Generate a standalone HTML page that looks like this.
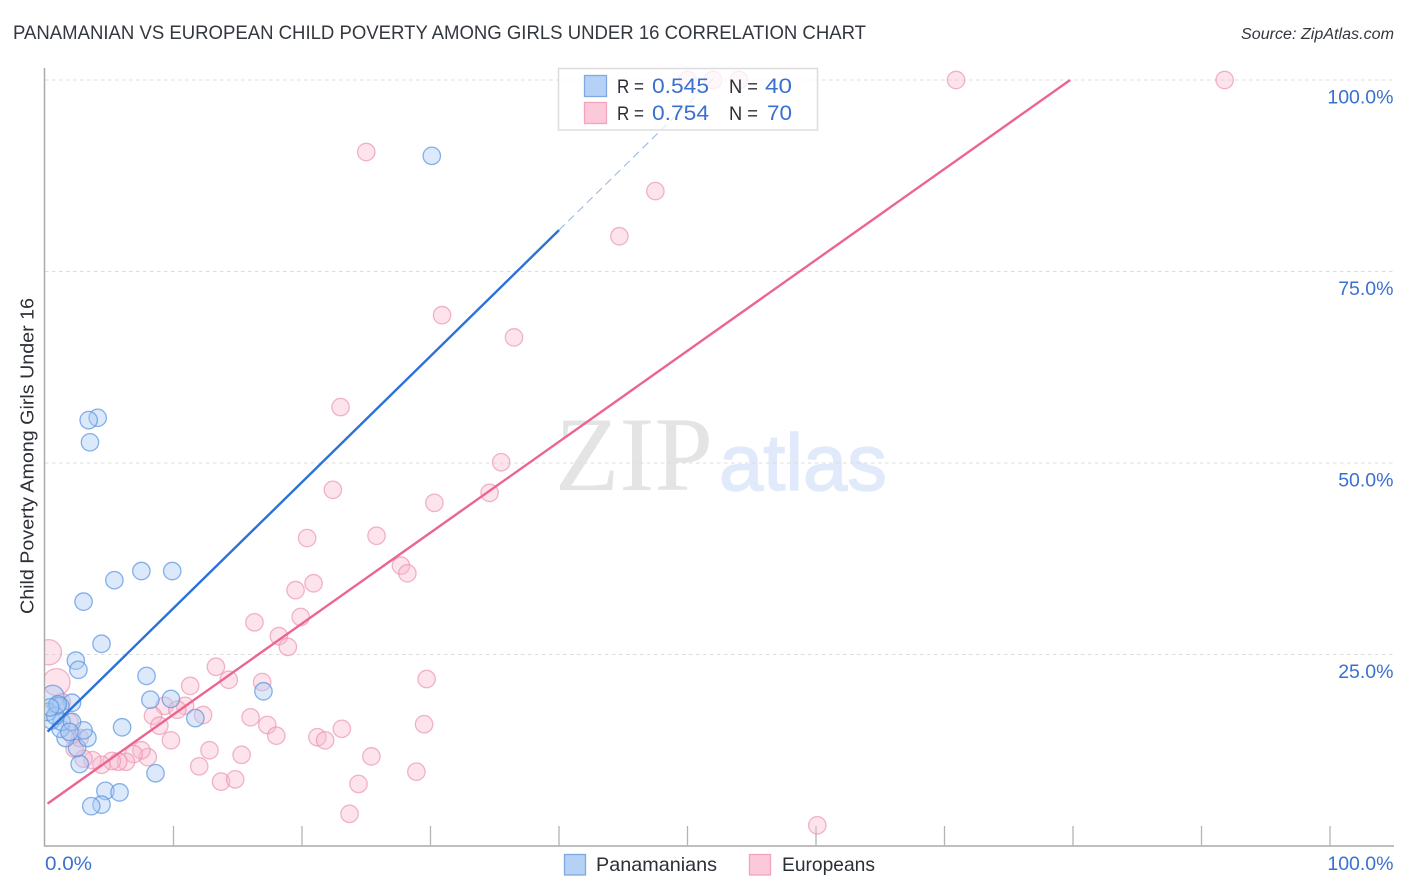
<!DOCTYPE html>
<html lang="en">
<head>
<meta charset="utf-8">
<title>Panamanian vs European Child Poverty Among Girls Under 16 Correlation Chart</title>
<style>
  html, body { margin: 0; padding: 0; background: #ffffff; }
  body { width: 1406px; height: 892px; overflow: hidden; }
  svg { display: block; }
  text { font-family: "Liberation Sans", Arial, sans-serif; }
</style>
</head>
<body>
<svg id="chart" xmlns="http://www.w3.org/2000/svg" width="1406" height="892" viewBox="0 0 1406 892">
  <text x="13" y="39" font-size="19.5" fill="#33373e" textLength="853" lengthAdjust="spacingAndGlyphs">PANAMANIAN VS EUROPEAN CHILD POVERTY AMONG GIRLS UNDER 16 CORRELATION CHART</text>
  <text x="1241" y="39" font-size="15.5" font-style="italic" fill="#33373d" textLength="153" lengthAdjust="spacingAndGlyphs">Source: ZipAtlas.com</text>
  <text transform="translate(33.5 614) rotate(-90)" x="0" y="0" font-size="18.5" fill="#2b2f36" textLength="316" lengthAdjust="spacingAndGlyphs">Child Poverty Among Girls Under 16</text>
  <g>
    <text x="555" y="490" style="font-family:'Liberation Serif',serif" font-size="106" fill="#e4e4e4" textLength="158" lengthAdjust="spacingAndGlyphs">ZIP</text>
    <text x="719" y="490" font-size="80" fill="#e1eafa" stroke="#e1eafa" stroke-width="1.5" textLength="168" lengthAdjust="spacingAndGlyphs">atlas</text>
  </g>
  <g id="grid"></g>
  <g id="axes"></g>
  <g id="points"></g>
  <g id="trends"></g>
  <g id="labels"></g>
  <g>
    <rect x="558.5" y="68.5" width="259" height="61.5" fill="#ffffff" fill-opacity="0.75" stroke="#dddddd" stroke-width="1.5"/>
    <rect x="584.5" y="75.5" width="22" height="21" fill="#b5d2f6" stroke="#7fa8e2" stroke-width="1.3"/>
    <rect x="584.5" y="102.5" width="22" height="21" fill="#fbc9da" stroke="#f2a4bd" stroke-width="1.3"/>
    <text x="617" y="93" font-size="19.5" fill="#2b2f36" textLength="27" lengthAdjust="spacingAndGlyphs">R =</text>
    <text x="652" y="93" font-size="21" fill="#3a70cf" textLength="57" lengthAdjust="spacingAndGlyphs">0.545</text>
    <text x="729" y="93" font-size="19.5" fill="#2b2f36" textLength="29" lengthAdjust="spacingAndGlyphs">N =</text>
    <text x="765" y="93" font-size="21" fill="#3a70cf" textLength="27" lengthAdjust="spacingAndGlyphs">40</text>
    <text x="617" y="120" font-size="19.5" fill="#2b2f36" textLength="27" lengthAdjust="spacingAndGlyphs">R =</text>
    <text x="652" y="120" font-size="21" fill="#3a70cf" textLength="57" lengthAdjust="spacingAndGlyphs">0.754</text>
    <text x="729" y="120" font-size="19.5" fill="#2b2f36" textLength="29" lengthAdjust="spacingAndGlyphs">N =</text>
    <text x="767" y="120" font-size="21" fill="#3a70cf" textLength="25" lengthAdjust="spacingAndGlyphs">70</text>
  </g>
  <g>
    <rect x="564.5" y="854.5" width="21" height="20.5" fill="#b5d2f6" stroke="#7fa8e2" stroke-width="1.3"/>
    <text x="596" y="871" font-size="19.5" fill="#2b2f36" textLength="121" lengthAdjust="spacingAndGlyphs">Panamanians</text>
    <rect x="749.5" y="854.5" width="21" height="20.5" fill="#fbc9da" stroke="#f2a4bd" stroke-width="1.3"/>
    <text x="782" y="871" font-size="19.5" fill="#2b2f36" textLength="93" lengthAdjust="spacingAndGlyphs">Europeans</text>
  </g>
</svg>
<script>
// Panamanians: child poverty data (percent)
const panamanianX = [30.1,4.1,3.4,3.5,7.5,9.9,5.4,3.0,4.4,2.4,2.6,7.9,8.2,9.8,17.0,11.7,6.0,8.6,4.7,5.8,4.4,3.6,2.7,2.5,3.3,3.0,1.6,1.2,2.1,0.6,0.9,1.2,0.5,1.3,2.1,0.2,0.8,1.0,0.4,1.9];
const panamanianY = [90.1,55.9,55.6,52.7,35.9,35.9,34.7,31.9,26.4,24.2,23.0,22.2,19.1,19.2,20.2,16.7,15.5,9.5,7.2,7.0,5.4,5.2,10.7,12.8,14.1,15.1,14.1,15.3,18.7,19.5,18.3,18.3,16.4,16.2,16.2,17.5,17.0,18.5,18.1,14.9];
const panamanianWeight = [1,1,1,1,1,1,1,1,1,1,1,1,1,1,1,1,1,1,1,1,1,1,1,1,1,1,1,1,1,1.7,1,1,1,1,1,1,1,1,1,1];
// Europeans: child poverty data (percent)
const europeanX = [70.9,91.8,52.0,54.0,50.0,25.0,47.5,44.7,30.9,36.5,23.0,35.5,22.4,34.6,30.3,25.8,20.4,27.7,28.2,20.9,19.5,19.9,16.3,18.2,18.9,13.3,14.3,11.3,16.9,9.3,10.9,10.3,12.3,8.4,8.9,9.8,16.0,17.3,18.0,12.8,8.0,7.5,15.3,12.0,13.7,14.8,21.2,21.8,23.1,25.4,24.4,23.7,29.7,29.5,28.9,60.1,6.9,6.3,5.7,5.2,4.4,3.7,3.0,1.3,0.3,0.9,2.3,2.7,2.1,1.9];
const europeanY = [100,100,100,100,100,90.6,85.5,79.6,69.3,66.4,57.3,50.1,46.5,46.1,44.8,40.5,40.2,36.6,35.6,34.3,33.4,29.9,29.2,27.4,26.0,23.4,21.7,20.9,21.4,18.3,18.3,17.8,17.1,17.0,15.7,13.8,16.8,15.8,14.4,12.5,11.6,12.5,11.9,10.4,8.4,8.7,14.2,13.8,15.3,11.7,8.1,4.2,21.8,15.9,9.7,2.7,12.0,11.0,11.0,11.1,10.6,11.2,11.4,18.8,25.3,21.4,12.7,14.1,14.5,16.2];
const europeanWeight = [1,1,1,1,1,1,1,1,1,1,1,1,1,1,1,1,1,1,1,1,1,1,1,1,1,1,1,1,1,1,1,1,1,1,1,1,1,1,1,1,1,1,1,1,1,1,1,1,1,1,1,1,1,1,1,1,1,1,1,1,1,1,1,1,2.1,2.4,1,1,1,1];
// Trend lines: intercept and slope in percent units
const panamanianTrend = [14.6, 1.645];
const panamanianTrendSolidEnd = 40;
const panamanianTrendDashedEnd = 52;
const europeanTrend = [5.3, 1.187];
const trendStart = 0.2;
// Axis ticks
const yGridValues = [25, 50, 75, 100];
const yTickLabels = ["25.0%", "50.0%", "75.0%", "100.0%"];
const xTickValues = [10, 20, 30, 40, 50, 60, 70, 80, 90, 100];
const xEndValues = [0, 100];
const xEndLabels = ["0.0%", "100.0%"];

const SVGNS = 'http://www.w3.org/2000/svg';
const xScale = v => 45 + v * 12.85;
const yScale = v => 846 - v * 7.66;
const rScale = w => 8.7 * Math.sqrt(w);

function make(tag, parent, attrs) {
  const el = document.createElementNS(SVGNS, tag);
  for (const k in attrs) el.setAttribute(k, attrs[k]);
  parent.appendChild(el);
  return el;
}

const defs = make('defs', document.getElementById('chart'), {});
const clip = make('clipPath', defs, { id: 'plot-clip' });
make('rect', clip, { x: 45, y: 0, width: 1361, height: 846 });

const grid = document.getElementById('grid');
yGridValues.forEach(v => {
  const line = make('line', grid, { x1: 45, x2: 1393, y1: yScale(v), y2: yScale(v), stroke: '#dcdcdc', 'stroke-width': 1, 'stroke-dasharray': '3.5 3.5' });
  
  
});

const axes = document.getElementById('axes');
const yAxisLine = make('line', axes, { x1: 44.5, x2: 44.5, y1: 68, y2: 846.5, stroke: '#aaaaaa', 'stroke-width': 1.5 });


const xAxisLine = make('line', axes, { x1: 44, x2: 1394, y1: 846, y2: 846, stroke: '#aaaaaa', 'stroke-width': 1.5 });


xTickValues.forEach(v => {
  const tick = make('line', axes, { x1: xScale(v), x2: xScale(v), y1: 826, y2: 846, stroke: '#b4b4b4', 'stroke-width': 1.3 });
  
  
});

const pointsGroup = document.getElementById('points');
pointsGroup.setAttribute('clip-path', 'url(#plot-clip)');
europeanX.forEach((v, i) => {
  const dot = make('circle', pointsGroup, { cx: xScale(v), cy: yScale(europeanY[i]), r: rScale(europeanWeight[i]), fill: '#f8b8cf', 'fill-opacity': 0.4, stroke: '#ea8fae', 'stroke-opacity': 0.65, 'stroke-width': 1.3 });
  
  
});
panamanianX.forEach((v, i) => {
  const dot = make('circle', pointsGroup, { cx: xScale(v), cy: yScale(panamanianY[i]), r: rScale(panamanianWeight[i]), fill: '#a9caf3', 'fill-opacity': 0.42, stroke: '#5a94e0', 'stroke-opacity': 0.72, 'stroke-width': 1.3 });
  
  
});

const trendValue = (t, x) => t[0] + t[1] * x;
const europeanTrendEnd = (100 - europeanTrend[0]) / europeanTrend[1];
const trends = document.getElementById('trends');
const blueDash = make('line', trends, { x1: xScale(panamanianTrendSolidEnd), y1: yScale(trendValue(panamanianTrend, panamanianTrendSolidEnd)), x2: xScale(panamanianTrendDashedEnd), y2: yScale(trendValue(panamanianTrend, panamanianTrendDashedEnd)), stroke: '#8fb4e4', 'stroke-width': 1, 'stroke-dasharray': '8 5' });


const blueLine = make('line', trends, { x1: xScale(trendStart), y1: yScale(trendValue(panamanianTrend, trendStart)), x2: xScale(panamanianTrendSolidEnd), y2: yScale(trendValue(panamanianTrend, panamanianTrendSolidEnd)), stroke: '#2a72d8', 'stroke-width': 2.4 });


const pinkLine = make('line', trends, { x1: xScale(trendStart), y1: yScale(trendValue(europeanTrend, trendStart)), x2: xScale(europeanTrendEnd), y2: yScale(trendValue(europeanTrend, europeanTrendEnd)), stroke: '#ec6590', 'stroke-width': 2.4 });



const labels = document.getElementById('labels');
yGridValues.forEach((v, i) => {
  const t = make('text', labels, { x: 1393.5, y: yScale(v) + 23.5, 'text-anchor': 'end', 'font-size': 19.5, fill: '#3a70cf' });
  t.textContent = yTickLabels[i];
  
  
});
xEndValues.forEach((v, i) => {
  const t = make('text', labels, v === 0
    ? { x: xScale(v), y: 870, 'font-size': 19.5, fill: '#3a70cf', textLength: 47, lengthAdjust: 'spacingAndGlyphs' }
    : { x: 1393.5, y: 870, 'text-anchor': 'end', 'font-size': 19.5, fill: '#3a70cf' });
  t.textContent = xEndLabels[i];
  
  
});
</script>
</body>
</html>
